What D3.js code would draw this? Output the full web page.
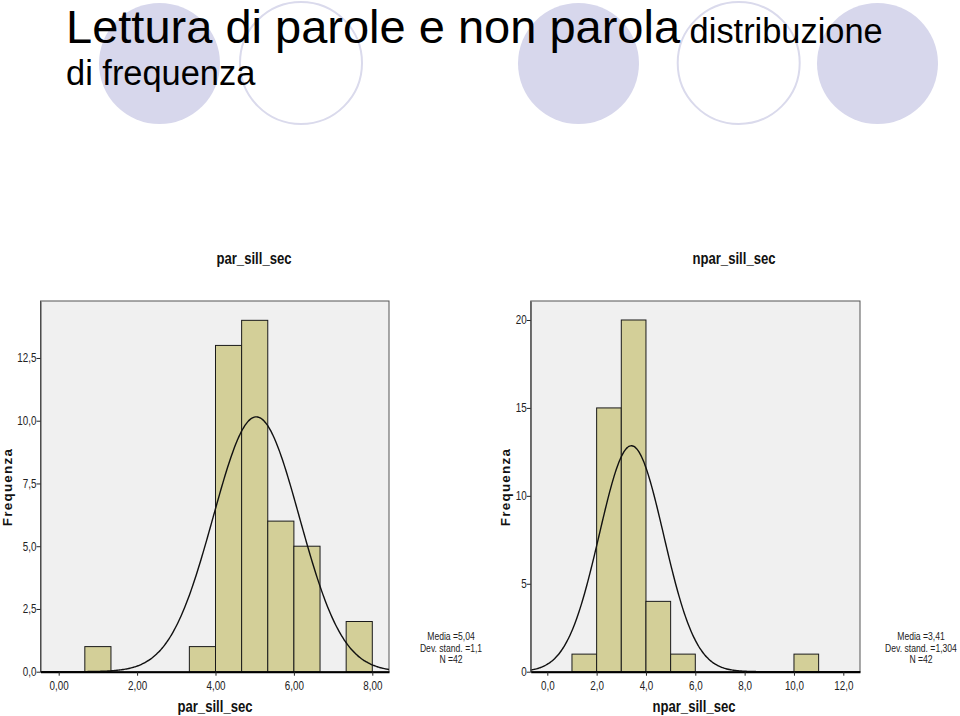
<!DOCTYPE html>
<html>
<head>
<meta charset="utf-8">
<script src="https://cdn.jsdelivr.net/npm/d3@7"></script>
<style>
  html, body { margin: 0; padding: 0; background: #ffffff; }
  svg { display: block; }
  text { font-family: "Liberation Sans", Arial, sans-serif; }
</style>
</head>
<body>
<svg id="chart" width="960" height="716"></svg>
<script>
// ---------- DATA ----------
const pageTitle = "Lettura di parole e non parola";
const pageSubtitleA = "distribuzione";
const pageSubtitleB = "di frequenza";

// Left histogram: par_sill_sec
const parName = "par_sill_sec";
const parBinStarts = [0.6667, 3.3333, 4.0, 4.6667, 5.3333, 6.0, 7.3333];
const parCounts    = [1, 1, 13, 14, 6, 5, 2];
const parBinWidth  = 0.6667;
const parXTicks    = [0, 2, 4, 6, 8];
const parXTickLabels = ["0,00", "2,00", "4,00", "6,00", "8,00"];
const parYTicks    = [0, 2.5, 5, 7.5, 10, 12.5];
const parYTickLabels = ["0,0", "2,5", "5,0", "7,5", "10,0", "12,5"];
const parMean = 5.04, parSd = 1.1, parN = 42;
const parStats = ["Media =5,04", "Dev. stand. =1,1", "N =42"];

// Right histogram: npar_sill_sec
const nparName = "npar_sill_sec";
const nparBinStarts = [1, 2, 3, 4, 5, 10];
const nparCounts    = [1, 15, 20, 4, 1, 1];
const nparBinWidth  = 1;
const nparXTicks    = [0, 2, 4, 6, 8, 10, 12];
const nparXTickLabels = ["0,0", "2,0", "4,0", "6,0", "8,0", "10,0", "12,0"];
const nparYTicks    = [0, 5, 10, 15, 20];
const nparYTickLabels = ["0", "5", "10", "15", "20"];
const nparMean = 3.41, nparSd = 1.304, nparN = 42;
const nparStats = ["Media =3,41", "Dev. stand. =1,304", "N =42"];

// ---------- DRAW ----------
const svg = d3.select("#chart");
const NARROW = 0.82;

// decorative background circles
const circles = [
  {cx: 159.5, cy: 63.5, r: 60.5, filled: true},
  {cx: 301,   cy: 63,   r: 61,   filled: false},
  {cx: 578.5, cy: 63.5, r: 60.5, filled: true},
  {cx: 738.7, cy: 63,   r: 61,   filled: false},
  {cx: 877.5, cy: 63.5, r: 60.5, filled: true}
];
svg.selectAll("circle.deco").data(circles).enter().append("circle")
  .attr("class", "deco")
  .attr("cx", d => d.cx).attr("cy", d => d.cy).attr("r", d => d.r)
  .attr("fill", d => d.filled ? "#d7d7ec" : "none")
  .attr("stroke", d => d.filled ? "none" : "#dadaec")
  .attr("stroke-width", 2);

// page title
const t = svg.append("text")
  .attr("x", 66).attr("y", 43)
  .attr("fill", "#000");
t.append("tspan").attr("font-size", 47).text(pageTitle);
t.append("tspan").attr("font-size", 34.4).text(" " + pageSubtitleA);
svg.append("text")
  .attr("x", 66).attr("y", 85)
  .attr("font-size", 34.4).attr("fill", "#000")
  .text(pageSubtitleB);

function normalPdf(x, m, s) {
  return Math.exp(-0.5 * ((x - m) / s) ** 2) / (s * Math.sqrt(2 * Math.PI));
}

// narrow text helper: text placed at (x,y), compressed horizontally
function narrowText(parent, x, y, str, size, opts = {}) {
  const g = parent.append("g").attr("transform", `translate(${x},${y}) scale(${NARROW},1)`);
  return g.append("text")
    .attr("x", 0).attr("y", 0)
    .attr("text-anchor", opts.anchor || "middle")
    .attr("font-size", size)
    .attr("font-weight", opts.bold ? "bold" : "normal")
    .attr("fill", opts.fill || "#222")
    .text(str);
}

function histogram(cfg) {
  const g = svg.append("g");
  const x = d3.scaleLinear().domain(cfg.xDomain).range([cfg.left, cfg.right]);
  const y = d3.scaleLinear().domain(cfg.yDomain).range([cfg.bottom, cfg.top]);

  // plot background
  g.append("rect")
    .attr("x", cfg.left).attr("y", cfg.top)
    .attr("width", cfg.right - cfg.left).attr("height", cfg.bottom - cfg.top)
    .attr("fill", "#f0f0f0").attr("stroke", "#555").attr("stroke-width", 1);

  // bars
  const bins = cfg.binStarts.map((s, i) => ({x0: s, x1: s + cfg.binWidth, n: cfg.counts[i]}));
  g.selectAll("rect.bar").data(bins).enter().append("rect")
    .attr("class", "bar")
    .attr("x", d => x(d.x0))
    .attr("width", d => x(d.x1) - x(d.x0))
    .attr("y", d => y(d.n))
    .attr("height", d => y(0) - y(d.n))
    .attr("fill", "#d3cf98").attr("stroke", "#1a1a1a").attr("stroke-width", 1);

  // normal curve
  const xs = d3.range(cfg.xDomain[0], cfg.xDomain[1] + 0.001, (cfg.xDomain[1] - cfg.xDomain[0]) / 300);
  const line = d3.line()
    .x(d => x(d))
    .y(d => y(cfg.n * cfg.binWidth * normalPdf(d, cfg.mean, cfg.sd)))
    .curve(d3.curveBasis);
  g.append("path").datum(xs).attr("d", line)
    .attr("fill", "none").attr("stroke", "#111").attr("stroke-width", 1.4);

  // y axis
  const yAxis = d3.axisLeft(y).tickValues(cfg.yTicks)
    .tickFormat((d, i) => cfg.yTickLabels[i]).tickSize(4).tickSizeOuter(0).tickPadding(1);
  const ya = g.append("g").attr("transform", `translate(${cfg.left},0)`).call(yAxis);
  ya.select(".domain").attr("stroke", "#444");
  ya.selectAll(".tick line").attr("stroke", "#222");
  ya.selectAll(".tick text").attr("font-size", 12).attr("fill", "#222")
    .attr("transform", `scale(${NARROW},1)`);

  // x axis
  const xAxis = d3.axisBottom(x).tickValues(cfg.xTicks)
    .tickFormat((d, i) => cfg.xTickLabels[i]).tickSize(4).tickSizeOuter(0).tickPadding(6);
  const xa = g.append("g").attr("transform", `translate(0,${cfg.bottom})`).call(xAxis);
  xa.select(".domain").attr("stroke", "#000").attr("stroke-width", 2);
  xa.selectAll(".tick line").attr("stroke", "#222");
  xa.selectAll(".tick text").attr("font-size", 12).attr("fill", "#222")
    .attr("transform", `scale(${NARROW},1)`);
  g.selectAll(".tick text").attr("font-family", "'Liberation Sans', Arial, sans-serif");

  // chart title
  narrowText(g, cfg.titleX, 264, cfg.name, 16, {bold: true, fill: "#111"});
  // x label
  narrowText(g, cfg.xLabelX, 712, cfg.name, 16, {bold: true, fill: "#111"});
  // y label
  g.append("text")
    .attr("transform", `translate(${cfg.yLabelX},487) rotate(-90)`)
    .attr("text-anchor", "middle").attr("font-weight", "bold").attr("font-size", 13.5)
    .attr("letter-spacing", 1.2)
    .attr("fill", "#111").text("Frequenza");

  // stats
  cfg.stats.forEach((s, i) => narrowText(g, cfg.statsX, 640 + i * 11.5, s, 10.5));
}

histogram({
  name: parName, binStarts: parBinStarts, counts: parCounts, binWidth: parBinWidth,
  xTicks: parXTicks, xTickLabels: parXTickLabels, yTicks: parYTicks, yTickLabels: parYTickLabels,
  mean: parMean, sd: parSd, n: parN, stats: parStats,
  xDomain: [-0.464, 8.426], yDomain: [0, 14.77],
  left: 40.5, right: 389, top: 301, bottom: 671.7,
  titleX: 254, xLabelX: 215, yLabelX: 12, statsX: 451
});

histogram({
  name: nparName, binStarts: nparBinStarts, counts: nparCounts, binWidth: nparBinWidth,
  xTicks: nparXTicks, xTickLabels: nparXTickLabels, yTicks: nparYTicks, yTickLabels: nparYTickLabels,
  mean: nparMean, sd: nparSd, n: nparN, stats: nparStats,
  xDomain: [-0.673, 12.677], yDomain: [0, 21.08],
  left: 530.7, right: 860, top: 301, bottom: 671.7,
  titleX: 734, xLabelX: 694, yLabelX: 510, statsX: 921
});
</script>
</body>
</html>
